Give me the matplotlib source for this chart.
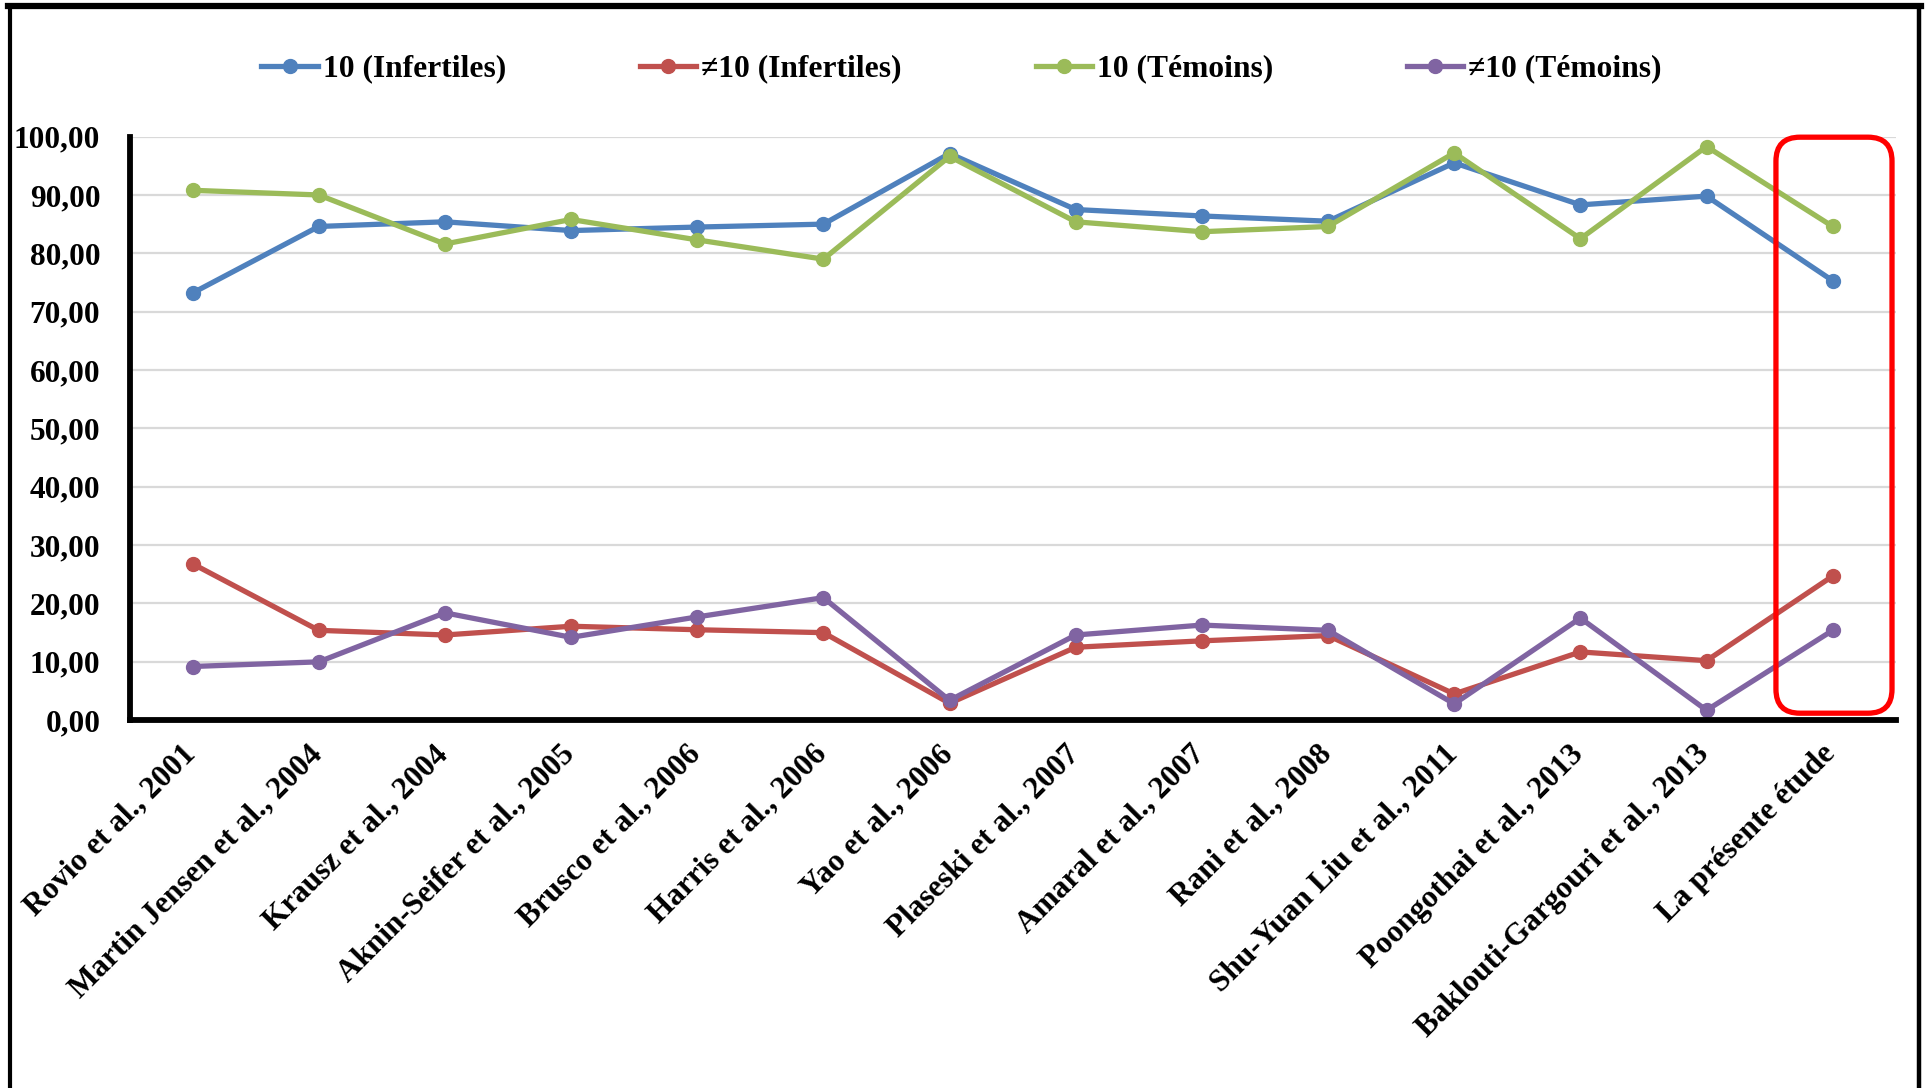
import matplotlib
matplotlib.use("Agg")
import matplotlib.pyplot as plt
import matplotlib.transforms as mtransforms
from matplotlib.patches import FancyBboxPatch
from matplotlib.lines import Line2D
from matplotlib.ticker import FuncFormatter, MultipleLocator

plt.rcParams['font.family'] = ['Liberation Serif', 'DejaVu Serif']
plt.rcParams['font.weight'] = 'bold'

categories = ["Rovio et al., 2001", "Martin Jensen et al., 2004", "Krausz et al., 2004",
              "Aknin-Seifer et al., 2005", "Brusco et al., 2006", "Harris et al., 2006",
              "Yao et al., 2006", "Plaseski et al., 2007", "Amaral et al., 2007",
              "Rani et al., 2008", "Shu-Yuan Liu et al., 2011", "Poongothai et al., 2013",
              "Baklouti-Gargouri et al., 2013", "La présente étude"]

inf_10 = [73.2, 84.6, 85.4, 83.9, 84.5, 85.0, 97.1, 87.5, 86.4, 85.5, 95.5, 88.3, 89.8, 75.3]
inf_not10 = [26.8, 15.4, 14.6, 16.1, 15.5, 15.0, 2.9, 12.5, 13.6, 14.5, 4.5, 11.7, 10.2, 24.7]
tem_10 = [90.8, 90.0, 81.6, 85.8, 82.3, 79.0, 96.6, 85.4, 83.7, 84.6, 97.2, 82.5, 98.3, 84.6]
tem_not10 = [9.2, 10.0, 18.4, 14.2, 17.7, 21.0, 3.4, 14.6, 16.3, 15.4, 2.8, 17.5, 1.7, 15.4]

series_labels = ["10 (Infertiles)", "\u226010 (Infertiles)", "10 (Témoins)", "\u226010 (Témoins)"]
colors = ["#4F81BD", "#C0504D", "#9BBB59", "#8064A2"]

W, H = 1925, 1088
fig = plt.figure(figsize=(W / 100, H / 100), dpi=100)
ax = fig.add_axes([129.5 / W, 1 - 720.2 / H, (1895.8 - 129.5) / W, (720.2 - 136.6) / H])

x = list(range(len(categories)))
handles = []
for vals, lab, c in zip([inf_10, inf_not10, tem_10, tem_not10], series_labels, colors):
    ln, = ax.plot(x, vals, color=c, lw=3.8, marker='o', ms=10, label=lab,
                  clip_on=False, zorder=3, solid_joinstyle='round')
    handles.append(ln)

ax.set_xlim(-0.5, len(categories) - 0.5)
ax.set_ylim(0, 100)
ax.yaxis.set_major_locator(MultipleLocator(10))
ax.yaxis.set_major_formatter(FuncFormatter(lambda v, p: f"{v:.2f}".replace('.', ',')))
ax.grid(axis='y', color='#d9d9d9', lw=1.6, zorder=0)
ax.set_axisbelow(True)

for s in ['top', 'right']:
    ax.spines[s].set_visible(False)
for s in ['left', 'bottom']:
    ax.spines[s].set_linewidth(4.2)
    ax.spines[s].set_color('black')
    ax.spines[s].set_zorder(4)

ax.set_xticks(x)
ax.set_xticklabels(categories, rotation=45, ha='right', fontsize=22.5, fontweight='bold')
ax.tick_params(axis='x', length=0, pad=14)
ax.tick_params(axis='y', length=0, pad=21, labelsize=22.5)
for t in ax.get_yticklabels():
    t.set_fontweight('bold')
shift = mtransforms.ScaledTranslation(9 / 100, 0, fig.dpi_scale_trans)
for t in ax.get_xticklabels():
    t.set_transform(t.get_transform() + shift)

# Red rounded highlight around the last category
fig.canvas.draw()
px_x = ax.transData.transform((1, 0))[0] - ax.transData.transform((0, 0))[0]
px_y = ax.transData.transform((0, 1))[1] - ax.transData.transform((0, 0))[1]
aspect = px_x / px_y
last = len(categories) - 1
box = FancyBboxPatch((last - 0.45, 1.2), 0.92, 98.7,
                     boxstyle="round,pad=0,rounding_size=0.19",
                     mutation_aspect=aspect,
                     fc='none', ec='#FF0000', lw=3.8, zorder=5, clip_on=False,
                     transform=ax.transData)
ax.add_patch(box)

fig.legend(handles=handles, loc='center', bbox_to_anchor=(0.4995, 1 - 69 / H),
           ncol=4, frameon=False, handlelength=1.78,
           handletextpad=0.16, columnspacing=4.25, prop={'weight': 'bold', 'size': 22.7})

# Outer frame of the chart area
frame_kw = dict(color='black', transform=fig.transFigure, zorder=10)
fig.add_artist(Line2D([10 / W, 10 / W], [0, 1 - 6 / H], lw=3.0, **frame_kw))
fig.add_artist(Line2D([1919 / W, 1919 / W], [0, 1 - 6 / H], lw=3.2, **frame_kw))
fig.add_artist(Line2D([8 / W, 1921 / W], [1 - 6 / H, 1 - 6 / H], lw=4.5, **frame_kw))

fig.savefig("out.png", dpi=100, facecolor='white')
